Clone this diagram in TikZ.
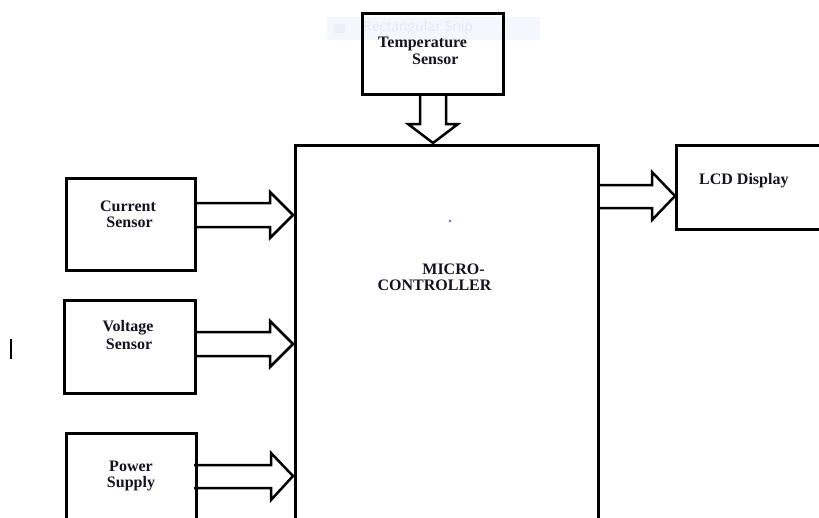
\documentclass[tikz,border=0pt]{standalone}
\usepackage{fontspec}
\setmainfont{Liberation Serif}
\newfontfamily\snipfont{Open Sans}
\definecolor{txt}{HTML}{141420}
\definecolor{snipbg}{HTML}{F4F7FD}
\definecolor{sniptx}{HTML}{E2E8F2}
\tikzset{
  blk/.style={draw=black, line width=2.5pt, minimum width=#1, inner sep=0pt},
  lbl/.style={font=\bfseries\fontsize{16}{18}\selectfont, text=txt, inner sep=0pt},
  barrow/.style={draw=black, line width=2.5pt, line join=miter}
}
\begin{document}
\begin{tikzpicture}[x=1pt,y=-1pt]
\useasboundingbox (0,0) rectangle (819,517);
\clip (0,0) rectangle (819,517);
\fill[white] (0,0) rectangle (819,517);
% faint snip artefact
\fill[snipbg] (327,17) rectangle (540,40);
\fill[sniptx!70] (334,24) rectangle (345,33);
\node[font=\snipfont\fontsize{14}{16}\selectfont, text=sniptx, anchor=west, inner sep=0pt] (snip) at (363,27.5) {Rectangular Snip};
% boxes
\node[blk=141pt, minimum height=81pt, anchor=north west] (temp) at (361,12) {};
\node[blk=303pt, minimum height=420pt, anchor=north west] (mcu) at (294,144) {};
\node[blk=129pt, minimum height=92pt, anchor=north west] (cur) at (65,177) {};
\node[blk=131pt, minimum height=93pt, anchor=north west] (volt) at (63,299) {};
\node[blk=130pt, minimum height=120pt, anchor=north west] (pow) at (65,432) {};
\node[blk=180pt, minimum height=84pt, anchor=north west] (lcd) at (675,144) {};
% labels
\node[lbl, anchor=west] (tempa) at (378,43.5) {Temperature};
\node[lbl, anchor=west] (tempb) at (412,59) {Sensor};
\node[lbl] (cura) at (128,206) {Current};
\node[lbl] (curb) at (129.5,222) {Sensor};
\node[lbl] (volta) at (128,328) {Voltage};
\node[lbl] (voltb) at (129,344) {Sensor};
\node[lbl] (powa) at (131,466) {Power};
\node[lbl] (powb) at (131,484) {Supply};
\node[lbl] (mcua) at (453.5,269) {MICRO-};
\node[lbl] (mcub) at (434.5,285) {CONTROLLER};
\node[lbl, anchor=west] (lcda) at (699,181) {LCD Display};
% block arrows
\draw[barrow] (420,93) -- (420,124) -- (408,124) -- (433,143) -- (458,124) -- (446,124) -- (446,93);
\draw[barrow] (194,203) -- (270,203) -- (270,192) -- (293,215) -- (270,238) -- (270,227) -- (194,227);
\draw[barrow] (194,332) -- (270,332) -- (270,321) -- (293,344) -- (270,367) -- (270,356) -- (194,356);
\draw[barrow] (194,465) -- (271,465) -- (271,453) -- (293,476) -- (271,500) -- (271,488) -- (194,488);
\draw[barrow] (597,185) -- (652,185) -- (652,172) -- (675,196) -- (652,220) -- (652,208) -- (597,208);
% stray marks
\draw[line width=1.6pt] (11,339) -- (11,359);
\fill[blue!80] (450,221) circle (1.2);
\end{tikzpicture}
\end{document}
